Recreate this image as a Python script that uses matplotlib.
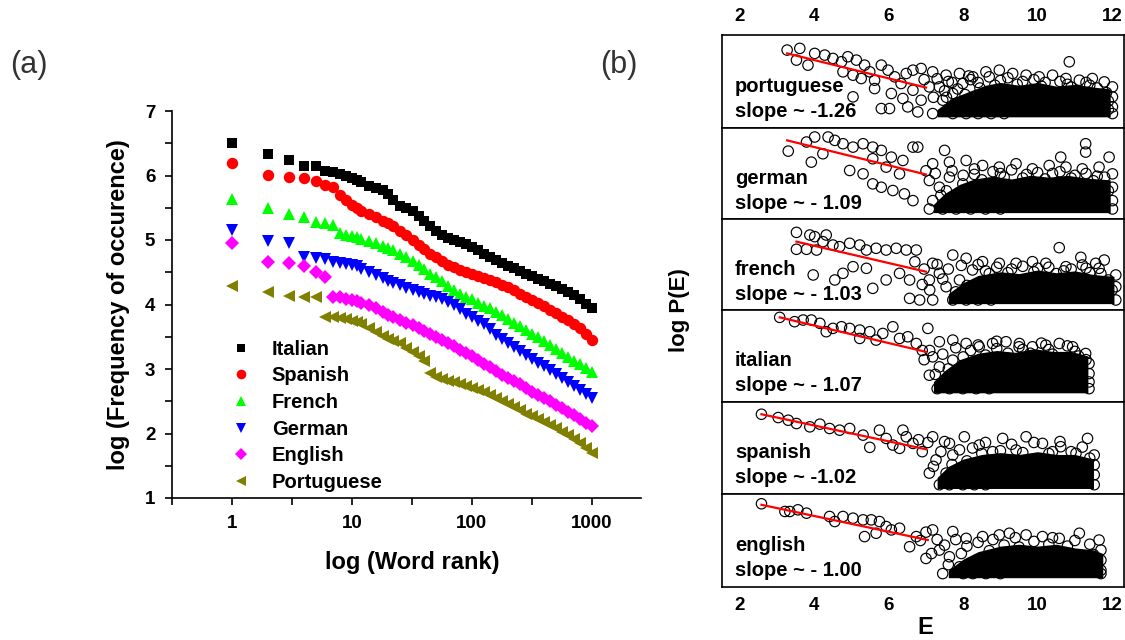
import matplotlib
matplotlib.use("Agg")
import matplotlib.pyplot as plt
from matplotlib.ticker import FixedLocator, NullFormatter

plt.rcParams["font.family"] = ["Liberation Sans", "DejaVu Sans"]

# ---- panel (a): word frequency vs rank ----
ranks = [1, 2, 3, 4, 5, 6, 7, 8, 9, 10, 11, 12, 14, 16, 18, 20, 22, 25, 28, 32,
         36, 40, 45, 50, 56, 63, 71, 80, 90, 100, 112, 126, 141, 158, 178, 200,
         224, 251, 282, 316, 355, 398, 447, 501, 562, 631, 708, 794, 891, 1000]

italian = [6.51, 6.33, 6.24, 6.15, 6.14, 6.07, 6.05, 6.02, 5.99, 5.96, 5.93, 5.90,
           5.83, 5.80, 5.78, 5.72, 5.62, 5.53, 5.50, 5.45, 5.37, 5.30, 5.22, 5.14,
           5.08, 5.03, 5.00, 4.97, 4.94, 4.89, 4.84, 4.79, 4.73, 4.69, 4.64, 4.60,
           4.56, 4.52, 4.48, 4.44, 4.40, 4.36, 4.32, 4.28, 4.24, 4.19, 4.14, 4.08,
           4.01, 3.94]
spanish = [6.19, 6.01, 5.98, 5.96, 5.92, 5.85, 5.82, 5.70, 5.62, 5.55, 5.49, 5.45,
           5.40, 5.35, 5.30, 5.26, 5.22, 5.14, 5.08, 5.00, 4.93, 4.86, 4.79, 4.73,
           4.68, 4.62, 4.58, 4.54, 4.51, 4.47, 4.44, 4.41, 4.38, 4.35, 4.31, 4.27,
           4.22, 4.17, 4.12, 4.07, 4.02, 3.97, 3.92, 3.87, 3.81, 3.76, 3.70, 3.63,
           3.54, 3.45]
french = [5.63, 5.49, 5.40, 5.35, 5.28, 5.27, 5.23, 5.11, 5.08, 5.06, 5.04, 5.02,
          4.99, 4.95, 4.91, 4.87, 4.84, 4.79, 4.74, 4.68, 4.61, 4.55, 4.48, 4.42,
          4.36, 4.29, 4.22, 4.16, 4.12, 4.08, 4.03, 3.98, 3.94, 3.89, 3.84, 3.78,
          3.72, 3.66, 3.60, 3.55, 3.49, 3.43, 3.37, 3.31, 3.25, 3.19, 3.13, 3.07,
          3.01, 2.96]
german = [5.16, 4.98, 4.95, 4.74, 4.72, 4.70, 4.66, 4.65, 4.63, 4.61, 4.59, 4.55,
          4.50, 4.46, 4.41, 4.37, 4.34, 4.30, 4.26, 4.23, 4.19, 4.16, 4.13, 4.11,
          4.08, 4.04, 3.99, 3.93, 3.86, 3.80, 3.75, 3.70, 3.62, 3.52, 3.46, 3.40,
          3.34, 3.28, 3.22, 3.16, 3.10, 3.04, 2.98, 2.92, 2.86, 2.80, 2.74, 2.68,
          2.61, 2.55]
english = [4.95, 4.66, 4.64, 4.59, 4.51, 4.43, 4.12, 4.11, 4.09, 4.07, 4.05, 4.03,
           3.99, 3.95, 3.89, 3.84, 3.81, 3.76, 3.72, 3.68, 3.64, 3.59, 3.54, 3.50,
           3.45, 3.40, 3.35, 3.30, 3.25, 3.20, 3.14, 3.08, 3.03, 2.97, 2.91, 2.86,
           2.81, 2.76, 2.70, 2.65, 2.60, 2.55, 2.50, 2.44, 2.39, 2.33, 2.28, 2.22,
           2.17, 2.11]
portuguese = [4.28, 4.20, 4.13, 4.11, 4.11, 3.81, 3.80, 3.79, 3.77, 3.75, 3.73, 3.70,
              3.64, 3.58, 3.51, 3.46, 3.43, 3.40, 3.33, 3.26, 3.20, 3.12, 2.94, 2.87,
              2.84, 2.82, 2.80, 2.77, 2.73, 2.70, 2.67, 2.64, 2.60, 2.55, 2.50, 2.45,
              2.41, 2.36, 2.31, 2.27, 2.22, 2.18, 2.13, 2.08, 2.02, 1.97, 1.91, 1.85,
              1.77, 1.69]

# ---- panel (b): log P(E) vs E, one strip per language (top to bottom) ----
langs = ["portuguese", "german", "french", "italian", "spanish", "english"]
slope_txt = ["slope ~ -1.26", "slope ~ - 1.09", "slope ~ - 1.03",
             "slope ~ - 1.07", "slope ~ -1.02", "slope ~ - 1.00"]

por_pts = [(3.27, 8.38), (3.61, 8.56), (3.52, 7.30), (4.01, 8.02), (3.83, 6.76), (4.28, 7.84),
           (4.50, 7.48), (4.73, 7.12), (4.90, 7.66), (5.13, 7.30), (5.35, 6.76), (4.77, 6.04),
           (5.04, 5.68), (5.26, 5.32), (5.49, 6.04), (5.62, 5.14), (5.80, 6.76), (5.98, 6.22),
           (6.16, 5.50), (6.33, 4.78), (6.47, 5.86), (6.65, 6.22), (6.87, 6.40), (5.04, 3.35),
           (5.80, 2.09), (6.02, 2.09), (6.51, 2.27), (6.78, 1.73), (7.18, 1.55), (5.62, 4.24),
           (6.07, 3.71), (6.38, 3.17), (6.65, 4.06), (6.87, 2.99), (7.09, 4.42), (10.85, 7.12),
           (7.18, 6.04), (7.54, 5.68), (7.90, 5.86), (8.26, 5.50), (8.61, 6.04), (8.97, 6.22),
           (9.33, 5.86), (9.69, 5.68), (10.04, 5.50), (10.40, 5.68), (10.76, 5.32), (11.12, 5.14),
           (11.47, 5.32), (11.79, 4.96), (12.01, 4.42), (12.01, 3.35), (12.01, 2.27), (12.01, 1.55),
           (7.36, 4.42), (7.72, 3.71), (7.99, 4.78), (7.45, 2.99), (7.81, 2.63), (7.63, 1.91),
           (7.72, 1.55), (8.08, 1.55), (8.40, 4.90), (9.00, 5.10), (9.60, 5.00), (10.20, 4.90),
           (10.80, 4.70), (11.40, 4.60), (7.60, 5.00), (8.20, 5.20),
           (6.95, 5.20), (7.20, 3.30), (7.30, 5.30), (7.50, 4.00), (7.55, 3.30), (7.70, 4.90),
           (7.85, 4.20), (7.95, 2.20), (8.05, 3.60), (8.15, 5.60), (8.30, 2.90), (8.45, 4.30),
           (8.70, 5.50), (8.85, 4.60), (9.20, 5.40), (9.45, 4.70), (9.90, 5.20), (10.10, 4.50),
           (10.60, 5.00), (10.90, 4.40), (11.30, 4.90), (11.60, 4.30), (11.85, 3.80), (11.90, 2.90),
           (11.90, 2.00), (8.40, 1.55), (8.75, 1.55), (9.10, 1.55)]
ger_pts = [(3.30, 7.46), (3.79, 8.46), (4.01, 9.01), (4.37, 9.01), (3.92, 6.25), (4.23, 7.17),
           (4.55, 8.64), (4.77, 8.27), (5.04, 7.90), (5.31, 8.27), (5.57, 7.90), (5.80, 7.54),
           (6.07, 6.80), (6.38, 6.43), (6.65, 7.90), (6.78, 7.90), (7.50, 7.54), (4.95, 5.33),
           (5.31, 4.96), (5.57, 3.86), (5.80, 3.49), (6.11, 3.13), (6.42, 2.76), (6.65, 2.02),
           (5.57, 6.62), (5.93, 5.70), (6.29, 4.96), (10.62, 6.80), (11.29, 8.27), (11.29, 7.35),
           (11.92, 6.80), (7.18, 6.07), (7.63, 6.25), (8.08, 6.43), (8.52, 5.88), (8.97, 5.70),
           (9.42, 6.07), (9.86, 5.51), (10.31, 5.88), (10.76, 5.70), (11.20, 5.51), (11.65, 5.70),
           (12.01, 4.96), (12.01, 3.49), (12.01, 2.02), (12.01, 1.10), (7.09, 4.23), (7.36, 3.49),
           (7.18, 2.02), (7.63, 4.60), (7.99, 3.86), (7.09, 1.10), (7.45, 1.10), (7.81, 1.10),
           (8.30, 4.90), (9.00, 5.00), (9.70, 4.90), (10.40, 5.00), (11.00, 4.80), (11.60, 4.70),
           (7.00, 5.30), (7.25, 5.00), (7.40, 2.60), (7.55, 3.10), (7.70, 5.30), (7.85, 2.10),
           (8.00, 4.80), (8.15, 3.00), (8.30, 5.50), (8.50, 4.30), (8.80, 5.20), (9.10, 4.60),
           (9.30, 5.40), (9.60, 4.50), (10.00, 5.10), (10.20, 4.40), (10.60, 5.20), (10.90, 4.50),
           (11.30, 5.00), (11.50, 4.20), (11.80, 4.60), (11.90, 3.10), (8.20, 1.10), (8.60, 1.10),
           (9.00, 1.10)]
fre_pts = [(3.52, 8.53), (3.88, 8.24), (4.01, 8.06), (4.32, 8.24), (3.52, 6.67), (3.79, 6.67),
           (4.06, 6.59), (4.23, 7.51), (4.50, 7.14), (4.68, 6.96), (4.95, 7.33), (5.22, 7.14),
           (5.40, 6.59), (5.66, 6.78), (5.93, 6.59), (6.20, 6.78), (6.47, 6.59), (6.74, 6.59),
           (5.04, 4.76), (5.40, 4.58), (4.77, 4.03), (4.55, 3.30), (3.97, 3.85), (5.57, 2.38),
           (5.93, 3.30), (6.29, 4.03), (6.56, 3.30), (6.56, 1.28), (6.83, 1.10), (10.58, 6.85),
           (11.16, 5.79), (11.79, 5.49), (11.56, 5.13), (7.18, 5.13), (7.72, 6.04), (8.08, 5.68),
           (8.52, 5.31), (8.97, 5.13), (9.42, 5.13), (9.86, 5.31), (10.22, 5.13), (10.76, 4.76),
           (11.20, 4.95), (11.65, 4.58), (12.10, 3.85), (12.10, 2.56), (12.10, 1.10), (7.09, 3.30),
           (7.36, 4.03), (7.54, 2.56), (7.72, 1.10), (8.08, 1.10), (7.18, 1.10), (7.90, 3.30),
           (8.60, 4.30), (9.30, 4.50), (10.00, 4.60), (10.70, 4.30), (11.40, 4.10),
           (6.95, 4.50), (7.10, 2.20), (7.30, 5.00), (7.45, 3.40), (7.60, 4.50), (7.80, 2.00),
           (7.95, 4.90), (8.10, 2.70), (8.25, 4.40), (8.40, 5.00), (8.70, 4.00), (8.90, 4.70),
           (9.20, 4.10), (9.60, 4.80), (9.90, 4.20), (10.30, 4.70), (10.50, 4.00), (10.90, 4.50),
           (11.30, 4.60), (11.70, 4.00), (11.90, 3.30), (12.00, 2.20), (8.40, 1.10), (8.75, 1.10),
           (6.90, 2.80), (6.70, 5.30)]
ita_pts = [(3.07, 9.20), (3.47, 8.73), (3.70, 8.91), (3.92, 8.91), (4.15, 8.55), (4.32, 7.64),
           (4.50, 8.00), (4.73, 8.18), (4.95, 8.00), (5.22, 7.82), (5.22, 6.91), (5.49, 7.64),
           (5.66, 6.73), (5.84, 7.45), (6.11, 8.18), (6.29, 6.91), (6.51, 7.09), (6.74, 6.36),
           (7.05, 8.00), (7.09, 2.91), (7.36, 6.55), (7.72, 6.73), (8.08, 6.36), (8.43, 6.00),
           (8.79, 6.36), (9.15, 6.55), (9.51, 6.36), (9.86, 6.00), (10.22, 6.18), (10.58, 6.36),
           (10.94, 6.00), (11.29, 5.27), (11.38, 4.18), (11.38, 3.09), (11.38, 2.18), (11.38, 1.45),
           (7.63, 1.45), (7.99, 1.45), (8.35, 1.45), (7.18, 4.91), (7.36, 3.82), (7.54, 2.36),
           (7.72, 4.55), (8.20, 5.60), (8.90, 5.80), (9.60, 5.70), (10.30, 5.70), (11.00, 5.50),
           (6.90, 5.60),
           (6.95, 4.60), (7.10, 5.60), (7.25, 3.00), (7.45, 5.20), (7.60, 3.60), (7.80, 5.90),
           (7.90, 2.60), (8.00, 4.90), (8.20, 3.60), (8.40, 6.20), (8.60, 5.10), (8.90, 6.60),
           (9.20, 5.30), (9.50, 6.00), (9.80, 5.30), (10.10, 6.40), (10.40, 5.20), (10.80, 6.10),
           (11.10, 5.00), (11.30, 4.60), (7.40, 1.90), (7.30, 1.45), (8.70, 1.45)]
spa_pts = [(2.58, 8.67), (3.03, 8.31), (3.30, 8.02), (3.52, 7.66), (3.88, 7.30), (4.15, 7.59),
           (4.41, 7.12), (4.68, 6.94), (4.95, 7.12), (5.31, 6.40), (5.49, 5.07), (5.75, 6.94),
           (5.93, 6.04), (6.11, 5.32), (6.29, 4.96), (6.38, 6.94), (6.47, 6.22), (6.65, 5.50),
           (7.18, 6.22), (7.63, 5.50), (8.03, 6.22), (8.43, 5.32), (9.06, 6.04), (9.69, 6.22),
           (10.13, 5.50), (10.62, 5.14), (11.34, 6.04), (11.52, 4.24), (11.52, 3.17), (11.52, 2.09),
           (11.52, 1.01), (7.09, 2.27), (7.36, 1.01), (7.63, 1.01), (7.99, 1.01), (7.27, 3.71),
           (7.54, 2.27), (7.72, 4.24), (11.03, 4.42), (10.40, 4.60), (9.42, 4.78), (8.79, 4.60),
           (6.90, 4.60), (7.05, 5.60), (7.20, 3.00), (7.40, 4.60), (7.50, 5.70), (7.70, 3.20),
           (7.85, 1.90), (7.90, 4.80), (8.10, 3.60), (8.25, 5.00), (8.50, 4.40), (8.60, 5.60),
           (9.00, 4.70), (9.30, 5.40), (9.60, 4.50), (9.90, 5.60), (10.30, 4.40), (10.60, 5.70),
           (10.90, 4.60), (11.20, 5.10), (11.40, 3.90), (8.30, 1.01), (8.60, 1.01), (6.80, 5.90)]
eng_pts = [(2.58, 8.95), (3.21, 8.12), (3.34, 8.12), (3.56, 8.30), (3.79, 7.94), (4.41, 7.58),
           (4.55, 7.04), (4.77, 7.58), (5.04, 7.40), (5.31, 7.22), (5.53, 7.22), (5.75, 7.04),
           (5.93, 6.50), (5.35, 5.42), (5.66, 5.78), (6.07, 6.14), (6.29, 6.32), (6.56, 4.33),
           (6.74, 5.42), (7.00, 3.07), (7.45, 1.44), (7.18, 6.14), (7.72, 5.96), (8.08, 5.23),
           (8.52, 5.42), (8.97, 5.60), (9.24, 5.78), (9.69, 5.60), (10.13, 5.42), (10.58, 5.23),
           (11.12, 5.78), (11.65, 5.05), (11.70, 3.97), (11.70, 2.89), (11.70, 1.81), (11.70, 1.44),
           (8.26, 1.44), (8.61, 1.44), (7.36, 3.97), (7.63, 3.25), (7.90, 2.17),
           (6.85, 5.00), (7.00, 5.90), (7.15, 3.60), (7.30, 5.10), (7.50, 4.50), (7.60, 2.40),
           (7.80, 5.10), (7.95, 3.60), (8.10, 4.40), (8.20, 2.60), (8.40, 4.80), (8.70, 3.90),
           (8.80, 5.10), (9.10, 4.50), (9.40, 5.30), (9.50, 4.30), (9.90, 4.90), (10.30, 4.60),
           (10.40, 5.30), (10.80, 4.40), (11.00, 5.00), (11.40, 4.60), (11.50, 3.50), (8.00, 1.44),
           (9.00, 1.44)]
b_points = [por_pts, ger_pts, fre_pts, ita_pts, spa_pts, eng_pts]

# dense overlapping cloud (solid black in the figure): column E, lower and upper edge
core_E = [[7.3, 7.7, 8.2, 8.6, 9.0, 9.5, 10.0, 10.5, 11.0, 11.5, 11.95],
          [7.2, 7.5, 7.9, 8.3, 8.8, 9.3, 9.8, 10.3, 10.8, 11.3, 11.95],
          [7.6, 8.0, 8.4, 9.0, 9.5, 10.0, 10.5, 11.0, 11.5, 12.05],
          [7.2, 7.5, 7.9, 8.4, 8.9, 9.4, 9.9, 10.4, 10.9, 11.35],
          [7.3, 7.6, 8.0, 8.5, 9.0, 9.5, 10.0, 10.5, 11.0, 11.5],
          [7.6, 8.0, 8.4, 9.0, 9.5, 10.0, 10.5, 11.0, 11.5, 11.75]]
core_lo = [1.2, 0.7, 0.7, 1.0, 0.6, 1.0]
core_hi = [[2.0, 3.2, 4.0, 4.6, 4.9, 4.6, 4.9, 4.5, 4.7, 4.4, 4.2],
           [1.6, 2.8, 3.8, 4.4, 4.7, 4.4, 4.8, 4.6, 4.8, 4.5, 4.3],
           [1.8, 3.0, 3.8, 4.2, 4.0, 4.4, 4.1, 4.3, 3.9, 3.7],
           [2.2, 3.4, 4.6, 5.3, 5.6, 5.4, 5.8, 5.5, 5.5, 5.0],
           [1.8, 3.0, 3.8, 4.3, 4.5, 4.3, 4.6, 4.3, 4.3, 3.8],
           [1.8, 3.0, 3.8, 4.4, 4.6, 4.4, 4.6, 4.2, 4.0, 3.6]]

# red fit lines
fit_E0 = [3.27, 3.27, 3.52, 3.07, 2.58, 2.58]
fit_E1 = [7.00, 7.00, 7.00, 7.00, 7.00, 7.05]
fit_P0 = [8.02, 8.64, 7.51, 9.20, 8.67, 8.84]
fit_P1 = [4.35, 4.89, 4.21, 5.45, 4.86, 5.05]

W, H = 1125, 640
fig = plt.figure(figsize=(11.25, 6.4), dpi=100)

# ---------------- panel (a) ----------------
ax = fig.add_axes([172 / W, 1 - 498 / H, (641 - 172) / W, (498 - 111) / H])
series = [("Italian", italian, "s", "black", 7.4),
          ("Spanish", spanish, "o", "#ff0000", 8.2),
          ("French", french, "^", "#00ff00", 9.2),
          ("German", german, "v", "#0000ff", 9.2),
          ("English", english, "D", "#ff00ff", 7.4),
          ("Portuguese", portuguese, "<", "#808000", 9.2)]
for name, vals, mk, col, ms in series:
    ax.plot(ranks, vals, linestyle="none", marker=mk, color=col, ms=ms,
            markeredgewidth=0, label=name)

ax.set_xscale("log")
ax.set_xlim(10 ** -0.5, 10 ** 3.41)
ax.set_ylim(1, 7)
ax.xaxis.set_major_locator(FixedLocator([1, 10, 100, 1000]))
ax.xaxis.set_minor_locator(FixedLocator([10 ** -0.5, 10 ** 0.5, 10 ** 1.5, 10 ** 2.5]))
ax.xaxis.set_minor_formatter(NullFormatter())
ax.set_xticklabels(["1", "10", "100", "1000"])
ax.yaxis.set_major_locator(FixedLocator([1, 2, 3, 4, 5, 6, 7]))
ax.yaxis.set_minor_locator(FixedLocator([1.5, 2.5, 3.5, 4.5, 5.5, 6.5]))
ax.tick_params(which="both", direction="out", length=5, width=1.2)
ax.tick_params(axis="x", which="major", pad=7, labelsize=13.5)
ax.tick_params(axis="y", which="major", pad=7, labelsize=13.5)
for lab in ax.get_xticklabels() + ax.get_yticklabels():
    lab.set_fontweight("bold")
for s in ["top", "right"]:
    ax.spines[s].set_visible(False)
for s in ["left", "bottom"]:
    ax.spines[s].set_linewidth(1.2)

ax.legend(loc="center left", bbox_to_anchor=(0.088, 0.212), frameon=False,
          prop={"weight": "bold", "size": 14.5}, handlelength=1.0, markerscale=0.85,
          handletextpad=1.0, labelspacing=0.38, numpoints=1, borderpad=0.4)

fig.text(118 / W, 1 - 305 / H, "log (Frequency of occurence)", rotation=90,
         ha="center", va="center", fontsize=17, fontweight="bold")
fig.text(412 / W, 1 - 563 / H, "log (Word rank)", ha="center", va="center",
         fontsize=17, fontweight="bold")
fig.text(29 / W, 1 - 65 / H, "(a)", ha="center", va="center", fontsize=22,
         color="#333333")
fig.text(619 / W, 1 - 65 / H, "(b)", ha="center", va="center", fontsize=22,
         color="#333333")

# ---------------- panel (b) ----------------
tops = [35, 128, 219, 310, 402, 494]
bots = [128, 219, 310, 402, 494, 587]
for i, lang in enumerate(langs):
    bx = fig.add_axes([722 / W, 1 - bots[i] / H, (1124 - 722) / W,
                       (bots[i] - tops[i]) / H])
    bx.fill_between(core_E[i], core_lo[i], core_hi[i], color="black", lw=0)
    E, P = zip(*b_points[i])
    bx.scatter(E, P, s=56, facecolors="none", edgecolors="black", linewidths=0.85)
    bx.plot([fit_E0[i], fit_E1[i]], [fit_P0[i], fit_P1[i]], color="#ff0000", lw=1.6)
    bx.set_xlim(1.52, 12.32)
    bx.set_ylim(0, 10)
    bx.set_yticks([])
    bx.set_xticks([2, 4, 6, 8, 10, 12])
    bx.tick_params(axis="x", length=0, labelsize=13.5, pad=7,
                   labeltop=(i == 0), labelbottom=(i == len(langs) - 1))
    for lab in bx.get_xticklabels():
        lab.set_fontweight("bold")
    for s in bx.spines.values():
        s.set_linewidth(1.2)
    bx.text(0.032, 0.446, lang, transform=bx.transAxes, ha="left", va="center",
            fontsize=14.5, fontweight="bold")
    bx.text(0.032, 0.174, slope_txt[i], transform=bx.transAxes, ha="left",
            va="center", fontsize=14.5, fontweight="bold")

fig.text(680 / W, 1 - 310 / H, "log P(E)", rotation=90, ha="center", va="center",
         fontsize=16, fontweight="bold")
fig.text(925 / W, 1 - 628 / H, "E", ha="center", va="center", fontsize=17,
         fontweight="bold")

fig.savefig("out.png", dpi=100)
